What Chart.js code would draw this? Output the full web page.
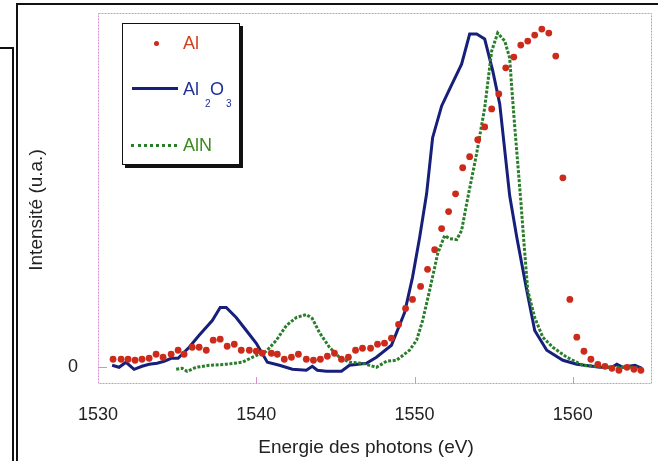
<!DOCTYPE html>
<html>
<head>
<meta charset="utf-8">
<script src="https://cdn.jsdelivr.net/npm/chart.js@4/dist/chart.umd.min.js"></script>
<style>
  body { margin: 0; background: #fff; font-family: "Liberation Sans", Arial, sans-serif; }
  #wrap { position: relative; width: 658px; height: 461px; overflow: hidden; }
  #myChart { position: absolute; left: 0; top: 0; }
  .ln { position: absolute; background: #111; }
  #legend { position: absolute; left: 122px; top: 23px; width: 116px; height: 140px;
    border: 1.5px solid #111; box-shadow: 3px 3px 0 #111; background: #fff; }
  .lbl { position: absolute; font-size: 18px; line-height: 18px; white-space: nowrap; }
  .sub { position: absolute; font-size: 10px; line-height: 10px; }
</style>
</head>
<body>
<div id="wrap">
  <canvas id="myChart" width="658" height="461"></canvas>
  <!-- scanned page frame lines -->
  <div class="ln" style="left:17px; top:3px; width:641px; height:2px;"></div>
  <div class="ln" style="left:16px; top:3px; width:2px; height:458px;"></div>
  <div class="ln" style="left:0; top:47px; width:13px; height:2px;"></div>
  <div class="ln" style="left:12px; top:47px; width:2px; height:414px;"></div>

  <div id="legend">
    <span style="position:absolute; left:31px; top:17px; width:5px; height:5px; border-radius:50%; background:#cc2a1a;"></span>
    <span class="lbl" style="left:60px; top:10px; color:#d2401e;">Al</span>

    <span style="position:absolute; left:9px; top:63px; width:46px; border-top:3px solid #16207a;"></span>
    <span class="lbl" style="left:60px; top:56px; color:#22309a;">Al</span>
    <span class="sub" style="left:82px; top:75px; color:#22309a;">2</span>
    <span class="lbl" style="left:87px; top:56px; color:#22309a;">O</span>
    <span class="sub" style="left:103px; top:75px; color:#22309a;">3</span>

    <span style="position:absolute; left:8px; top:120px; width:46px; border-top:3px dotted #2a7d2a;"></span>
    <span class="lbl" style="left:60px; top:112px; color:#3a8a1e;">AlN</span>
  </div>
</div>
<script>
'use strict';

// Al (points)
let alX = [1530.95, 1531.46, 1531.90, 1532.34, 1532.78, 1533.23, 1533.67, 1534.11, 1534.62, 1535.06,
  1535.44, 1535.95, 1536.39, 1536.84, 1537.28, 1537.72, 1538.16, 1538.61, 1539.05, 1539.56,
  1540.00, 1540.38, 1540.95, 1541.33, 1541.77, 1542.22, 1542.66, 1543.16, 1543.61, 1544.05,
  1544.49, 1544.94, 1545.38, 1545.82, 1546.27, 1546.71, 1547.22, 1547.66, 1548.10, 1548.54,
  1548.99, 1549.43, 1549.87, 1550.38, 1550.82, 1551.27, 1551.71, 1552.15, 1552.59, 1553.04,
  1553.48, 1553.99, 1554.43, 1554.87, 1555.32, 1555.76, 1556.27, 1556.71, 1557.15, 1557.59,
  1558.04, 1558.48, 1558.92, 1559.37, 1559.81, 1560.25, 1560.70, 1561.14, 1561.58, 1562.03,
  1562.47, 1562.91, 1563.42, 1563.86, 1564.30];
let alY = [0.024, 0.024, 0.024, 0.021, 0.024, 0.027, 0.039, 0.030, 0.039, 0.051,
  0.039, 0.060, 0.060, 0.051, 0.081, 0.084, 0.063, 0.069, 0.051, 0.051,
  0.048, 0.042, 0.042, 0.039, 0.024, 0.030, 0.039, 0.024, 0.021, 0.024,
  0.033, 0.042, 0.024, 0.030, 0.051, 0.057, 0.057, 0.069, 0.072, 0.087,
  0.128, 0.176, 0.203, 0.242, 0.293, 0.352, 0.415, 0.466, 0.519, 0.597,
  0.630, 0.681, 0.719, 0.773, 0.818, 0.896, 0.928, 0.964, 0.976, 0.994,
  1.012, 1.000, 0.931, 0.567, 0.203, 0.090, 0.048, 0.024, 0.009, 0.003,
  -0.003, -0.009, 0.000, -0.006, -0.009];

// Al2O3 (solid line)
let al2o3X = [1530.89, 1531.33, 1531.77, 1532.28, 1532.78, 1533.23, 1533.73, 1534.18, 1534.62, 1535.06,
  1535.76, 1536.39, 1537.22, 1537.72, 1538.10, 1538.73, 1539.37, 1540.00, 1540.70, 1541.46,
  1542.28, 1543.16, 1543.54, 1543.86, 1544.43, 1545.38, 1545.89, 1546.96, 1547.59, 1548.54,
  1549.37, 1549.87, 1550.32, 1550.76, 1551.14, 1551.71, 1552.22, 1552.97, 1553.48, 1553.92,
  1554.43, 1554.94, 1555.38, 1556.01, 1556.46, 1557.09, 1557.59, 1558.35, 1559.37, 1560.25,
  1561.71, 1562.47, 1562.78, 1563.16, 1563.92, 1564.37];
let al2o3Y = [0.006, 0.000, 0.015, -0.006, 0.003, 0.009, 0.012, 0.018, 0.027, 0.027,
  0.060, 0.096, 0.140, 0.179, 0.179, 0.149, 0.110, 0.072, 0.015, 0.006,
  -0.006, -0.009, 0.003, -0.009, -0.012, -0.012, 0.006, 0.012, 0.030, 0.066,
  0.164, 0.269, 0.388, 0.519, 0.687, 0.782, 0.833, 0.907, 0.997, 0.997,
  0.982, 0.887, 0.788, 0.513, 0.388, 0.230, 0.110, 0.051, 0.021, 0.009,
  0.000, 0.000, 0.009, 0.000, 0.006, -0.003];

// AlN (dotted line)
let alnX = [1534.94, 1535.32, 1535.63, 1536.20, 1537.03, 1538.10, 1539.11, 1539.75, 1540.63, 1541.27,
  1541.90, 1542.53, 1543.16, 1543.54, 1543.99, 1544.62, 1545.25, 1545.89, 1546.71, 1547.59,
  1548.23, 1548.86, 1549.68, 1550.13, 1550.51, 1550.95, 1551.46, 1551.90, 1552.22, 1552.66,
  1552.97, 1553.29, 1553.92, 1554.43, 1554.87, 1555.25, 1555.70, 1556.01, 1556.14, 1556.33,
  1556.52, 1556.71, 1556.90, 1557.15, 1557.59, 1558.10, 1558.73, 1559.62, 1560.63, 1562.15,
  1563.80, 1564.24];
let alnY = [-0.006, -0.003, -0.012, 0.000, 0.006, 0.009, 0.015, 0.030, 0.048, 0.081,
  0.125, 0.149, 0.158, 0.146, 0.104, 0.060, 0.030, 0.015, 0.012, 0.000,
  0.018, 0.021, 0.051, 0.081, 0.140, 0.230, 0.340, 0.394, 0.385, 0.382,
  0.409, 0.490, 0.639, 0.776, 0.946, 1.000, 0.976, 0.925, 0.836, 0.719,
  0.609, 0.499, 0.379, 0.230, 0.149, 0.090, 0.060, 0.030, 0.006, 0.000,
  0.000, -0.003];

let xTickValues = [1530, 1540, 1550, 1560];
let yTickValues = [0];
let xTitle = 'Energie des photons (eV)';
let yTitle = 'Intensité (u.a.)';

function toPoints(xs, ys) {
  let pts = [];
  for (let i = 0; i < xs.length; i++) {
    pts.push({ x: xs[i], y: ys[i] });
  }
  return pts;
}

let pink = '#d88fd2';

// pink dotted frame + inward tick marks
let framePlugin = {
  id: 'frame',
  beforeDatasetsDraw(chart) {
    let ctx = chart.ctx;
    let a = chart.chartArea;
    ctx.save();
    ctx.strokeStyle = pink;
    ctx.lineWidth = 1;
    ctx.setLineDash([2, 1]);
    ctx.strokeRect(a.left + 0.5, a.top + 0.5, a.right - a.left - 1, a.bottom - a.top - 1);
    ctx.setLineDash([]);
    ctx.beginPath();
    for (let v of xTickValues) {
      if (v === xTickValues[0]) continue;
      let px = Math.round(chart.scales.x.getPixelForValue(v)) + 0.5;
      ctx.moveTo(px, a.bottom);
      ctx.lineTo(px, a.bottom - 7);
    }
    for (let v of yTickValues) {
      let py = Math.round(chart.scales.y.getPixelForValue(v)) + 0.5;
      ctx.moveTo(a.left, py);
      ctx.lineTo(a.left + 9, py);
    }
    ctx.stroke();
    ctx.restore();
  },
  // axis titles, placed a bit off-centre like the scan
  afterDraw(chart) {
    let ctx = chart.ctx;
    ctx.save();
    ctx.fillStyle = '#222';
    ctx.font = '19px "Liberation Sans", Arial, sans-serif';
    ctx.textAlign = 'center';
    ctx.textBaseline = 'middle';
    ctx.fillText(xTitle, 366, 448);
    ctx.translate(37, 210);
    ctx.rotate(-Math.PI / 2);
    ctx.fillText(yTitle, 0, 0);
    ctx.restore();
  }
};

let ctx = document.getElementById('myChart').getContext('2d');

let chart = new Chart(ctx, {
  type: 'scatter',
  data: {
    datasets: [
      {
        label: 'Al',
        data: toPoints(alX, alY),
        showLine: false,
        pointRadius: 3.4,
        pointBackgroundColor: '#cc2a1a',
        pointBorderWidth: 0,
        order: 0
      },
      {
        label: 'AlN',
        data: toPoints(alnX, alnY),
        showLine: true,
        borderColor: '#2a7d2a',
        borderWidth: 3,
        borderDash: [3, 1.6],
        pointRadius: 0,
        tension: 0,
        order: 1
      },
      {
        label: 'Al2O3',
        data: toPoints(al2o3X, al2o3Y),
        showLine: true,
        borderColor: '#16207a',
        borderWidth: 3,
        pointRadius: 0,
        tension: 0,
        order: 2
      }
    ]
  },
  options: {
    responsive: false,
    animation: false,
    devicePixelRatio: 1,
    layout: { padding: { left: 0, right: 6, top: 13, bottom: 0 } },
    plugins: {
      legend: { display: false },
      tooltip: { enabled: false }
    },
    scales: {
      x: {
        type: 'linear',
        min: 1530,
        max: 1565,
        grid: { display: false, drawTicks: false },
        border: { display: false },
        afterBuildTicks(scale) {
          scale.ticks = xTickValues.map(v => ({ value: v }));
        },
        afterFit(scale) {
          scale.height = 77;
          scale.paddingLeft = 0;
          scale.paddingRight = 0;
        },
        ticks: {
          padding: 20,
          color: '#222',
          font: { family: 'Liberation Sans', size: 18 },
          callback: v => String(v)
        },
        title: { display: false }
      },
      y: {
        type: 'linear',
        min: -0.05,
        max: 1.06,
        grid: { display: false, drawTicks: false },
        border: { display: false },
        afterBuildTicks(scale) {
          scale.ticks = yTickValues.map(v => ({ value: v }));
        },
        afterFit(scale) {
          scale.width = 98;
          scale.paddingTop = 0;
          scale.paddingBottom = 0;
        },
        ticks: {
          padding: 20,
          color: '#222',
          font: { family: 'Liberation Sans', size: 18 },
          callback: v => String(v)
        },
        title: { display: false }
      }
    }
  },
  plugins: [framePlugin]
});
</script>
</body>
</html>
